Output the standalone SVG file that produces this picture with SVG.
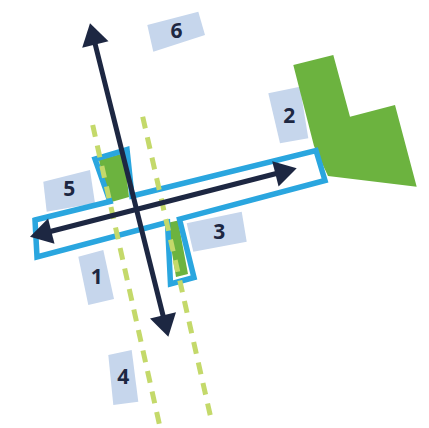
<svg xmlns="http://www.w3.org/2000/svg" width="429" height="428" viewBox="0 0 429 428">
<style>
.lbl{fill:#c6d6ec}
.num{font-family:"Open Sans","Liberation Sans",sans-serif;font-weight:700;font-size:21px;fill:#1d2742;text-anchor:middle}
.green{fill:#6cb33f}
.outline{fill:none;stroke:#2aa6df;stroke-width:5.5;stroke-linejoin:miter}
.dash{stroke:#c4d96a;stroke-width:5;stroke-dasharray:12 9;fill:none}
.arrow{stroke:#1d2742;stroke-width:5;fill:none}
.head{fill:#1d2742}
</style>
<rect width="429" height="428" fill="#ffffff"/>
<g id="labels">
<g id="n6"><polygon class="lbl" points="147.3,25 198.3,11.7 205,35 153.3,51.7"/><text class="num" x="176.5" y="38">6</text></g>
<g id="n2"><polygon class="lbl" points="268.3,93.3 300,86.7 308.3,138.3 280,143.3"/><text class="num" x="289.3" y="122.5">2</text></g>
<g id="n5"><polygon class="lbl" points="43.3,181.7 90,170 95,203.3 46.7,211.7"/><text class="num" x="69.3" y="196">5</text></g>
<g id="n1"><polygon class="lbl" points="78.3,256.7 103.3,250 114,299 88.3,305"/><text class="num" x="96.7" y="284">1</text></g>
<g id="n3"><polygon class="lbl" points="186.7,223.3 241.7,211.7 246.7,241.7 193.3,251.7"/><text class="num" x="219.3" y="239">3</text></g>
<g id="n4"><polygon class="lbl" points="108.3,355 131.7,350 138.3,401.7 113.3,405"/><text class="num" x="123.3" y="384">4</text></g>
</g>
<g id="field">
<polygon class="green" points="293.3,65 333.3,55 350,116.7 395,105 416.7,186.7 328,176 314,146"/>
</g>
<g id="pier">
<polygon class="green" points="99,160 124,153 129,197 108,203"/>
<polygon class="green" points="167,223 178,220.5 188,274 176,277"/>
<path class="outline" d="M35,220 L110,201.5 L95,159 L127,149.5 L132,196 L316,150.5 L325,180.5 L179.5,219.2 L194,277.5 L170.5,284 L167.5,222.3 L37,257 Z"/>
</g>
<g id="paths">
<line class="dash" x1="92.7" y1="125" x2="160" y2="427"/>
<line class="dash" x1="142.7" y1="116.7" x2="211.7" y2="421.7"/>
</g>
<g id="connectors">
<line class="arrow" x1="44.5" y1="233" x2="282.2" y2="172"/>
<polygon class="head" points="30,236.7 54.5,243.8 48.1,218.6"/>
<polygon class="head" points="296.7,168.3 278.6,186.4 272.2,161.2"/>
<line class="arrow" x1="93.6" y1="37.9" x2="164.7" y2="322.1"/>
<polygon class="head" points="90,23.3 108.5,41.2 82.2,47.8"/>
<polygon class="head" points="168.3,336.7 176,312.2 150,318.6"/>
</g>
</svg>
